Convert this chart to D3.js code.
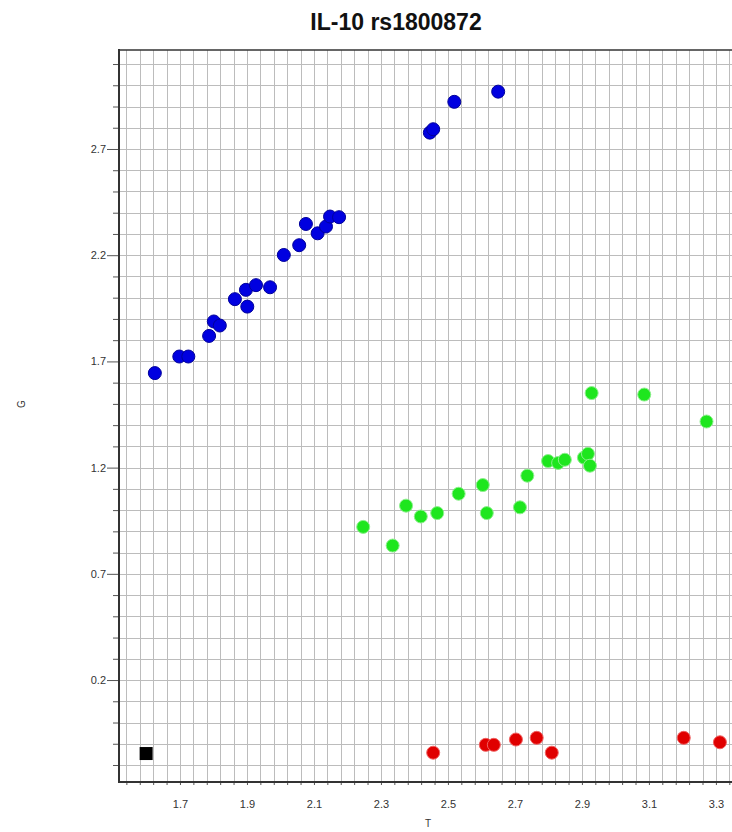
<!DOCTYPE html>
<html>
<head>
<meta charset="utf-8">
<script src="https://cdn.jsdelivr.net/npm/d3@7"></script>
<style>
  body { margin: 0; background: #fff; }
  svg { display: block; font-family: Arial, "Liberation Sans", sans-serif; }
</style>
</head>
<body>
<svg id="chart" width="732" height="832"></svg>
<script>
// Allele signal clusters for IL-10 rs1800872 (T vs G)
const blueT = [1.625, 1.698, 1.725, 1.787, 1.801, 1.819, 1.864, 1.901, 1.897, 1.927, 1.969,
               2.010, 2.056, 2.076, 2.111, 2.136, 2.148, 2.175, 2.446, 2.456, 2.519, 2.650];
const blueG = [1.645, 1.723, 1.723, 1.820, 1.888, 1.869, 1.993, 1.958, 2.037, 2.059, 2.049,
               2.201, 2.247, 2.347, 2.303, 2.335, 2.382, 2.379, 2.777, 2.793, 2.922, 2.970];

const greenT = [2.247, 2.335, 2.375, 2.419, 2.468, 2.532, 2.604, 2.616, 2.715, 2.737,
                2.799, 2.829, 2.849, 2.906, 2.918, 2.924, 2.929, 3.086, 3.272];
const greenG = [0.921, 0.833, 1.021, 0.970, 0.986, 1.077, 1.118, 0.986, 1.013, 1.162,
                1.231, 1.222, 1.237, 1.247, 1.265, 1.209, 1.551, 1.544, 1.417];

const redT = [2.456, 2.613, 2.637, 2.703, 2.765, 2.810, 3.204, 3.312];
const redG = [-0.142, -0.105, -0.105, -0.080, -0.072, -0.142, -0.072, -0.093];

// no-template control
const ntcT = [1.599];
const ntcG = [-0.146];

const xTickLabels = [1.7, 1.9, 2.1, 2.3, 2.5, 2.7, 2.9, 3.1, 3.3];
const yTickLabels = [0.2, 0.7, 1.2, 1.7, 2.2, 2.7];

const svg = d3.select("#chart");
const plotL = 119, plotT = 50, plotB = 782, plotR = 736;

const x = d3.scaleLinear().domain([1.518, 3.36]).range([plotL, plotR]);
const y = d3.scaleLinear().domain([-0.28, 3.166]).range([plotB, plotT]);

const xGrid = d3.range(0, 46).map(i => +(1.54 + i * 0.04).toFixed(2));
const yGrid = d3.range(0, 34).map(i => +(-0.2 + i * 0.1).toFixed(1));

const isLabel = (list, v) => list.some(t => Math.abs(t - v) < 1e-6);

// grid
const grid = svg.append("g").attr("stroke", "#bcbcbc").attr("stroke-width", 1);
grid.selectAll("line.vx").data(xGrid).join("line")
  .attr("x1", d => Math.round(x(d)) + 0.5).attr("x2", d => Math.round(x(d)) + 0.5)
  .attr("y1", plotT).attr("y2", plotB);
grid.selectAll("line.hy").data(yGrid).join("line")
  .attr("y1", d => Math.round(y(d)) + 0.5).attr("y2", d => Math.round(y(d)) + 0.5)
  .attr("x1", plotL).attr("x2", plotR);

// axes
const xAxis = d3.axisBottom(x).tickValues(xGrid).tickSize(3).tickSizeOuter(0)
  .tickFormat(d => isLabel(xTickLabels, d) ? d3.format(".1f")(d) : "");
const gx = svg.append("g").attr("transform", `translate(0,${plotB})`).call(xAxis);
gx.select(".domain").remove();
gx.selectAll(".tick line").attr("stroke", "#555");
gx.selectAll(".tick text").attr("y", 18).attr("font-size", 11).attr("fill", "#333");

const yAxis = d3.axisLeft(y).tickValues(yGrid).tickSize(6).tickSizeOuter(0)
  .tickFormat(d => isLabel(yTickLabels, d) ? d3.format(".1f")(d) : "");
const gy = svg.append("g").attr("transform", `translate(${plotL},0)`).call(yAxis);
gy.select(".domain").remove();
gy.selectAll(".tick line").attr("stroke", "#555")
  .attr("x2", d => isLabel(yTickLabels, d) ? -12 : -6);
gy.selectAll(".tick text").attr("x", -13).attr("font-size", 11).attr("fill", "#333");

// frame
svg.append("line").attr("x1", plotL).attr("x2", plotL).attr("y1", plotT - 1).attr("y2", plotB + 1)
  .attr("stroke", "#333").attr("stroke-width", 2);
svg.append("line").attr("x1", plotL).attr("x2", plotR).attr("y1", plotB).attr("y2", plotB)
  .attr("stroke", "#333").attr("stroke-width", 2);
svg.append("line").attr("x1", plotL).attr("x2", plotR).attr("y1", plotT).attr("y2", plotT)
  .attr("stroke", "#333").attr("stroke-width", 1.5);

// points
function cluster(ts, gs, fill, stroke) {
  svg.append("g").selectAll("circle").data(ts.map((t, i) => [t, gs[i]])).join("circle")
    .attr("cx", d => x(d[0])).attr("cy", d => y(d[1])).attr("r", 6.5)
    .attr("fill", fill).attr("stroke", stroke).attr("stroke-width", 1);
}
cluster(redT, redG, "#e00000", "#f06060");
cluster(greenT, greenG, "#1ee61e", "#8cf08c");
cluster(blueT, blueG, "#0000e0", "#00009a");

svg.append("g").selectAll("rect").data(ntcT.map((t, i) => [t, ntcG[i]])).join("rect")
  .attr("x", d => x(d[0]) - 6.5).attr("y", d => y(d[1]) - 6.5)
  .attr("width", 13).attr("height", 13).attr("fill", "#000");

// titles
svg.append("text").attr("x", 396).attr("y", 30).attr("text-anchor", "middle")
  .attr("font-size", 23).attr("font-weight", "bold").attr("fill", "#111")
  .text("IL-10 rs1800872");
svg.append("text").attr("x", 428).attr("y", 827).attr("text-anchor", "middle")
  .attr("font-size", 10).attr("fill", "#333").text("T");
svg.append("text").attr("transform", "translate(25,404) rotate(-90)").attr("text-anchor", "middle")
  .attr("font-size", 10).attr("fill", "#333").text("G");
</script>
</body>
</html>
